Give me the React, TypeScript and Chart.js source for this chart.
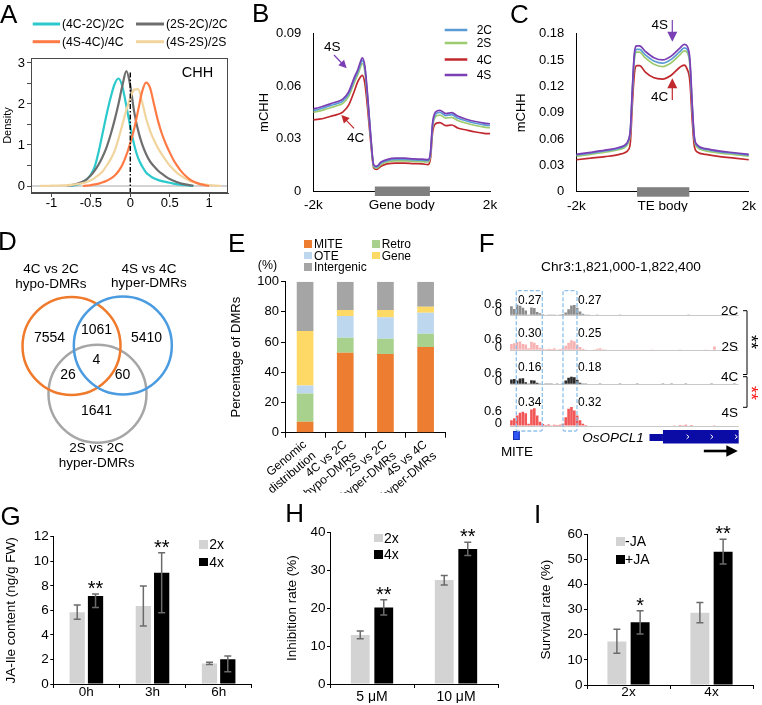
import React, { useEffect, useRef } from 'react';
import { Chart, registerables } from 'chart.js';

Chart.register(...registerables);

const FONT = '"Liberation Sans", Arial, Helvetica, sans-serif';
Chart.defaults.font.family = FONT;
Chart.defaults.color = '#000';

// ===================== DATA =====================
// ---- Panel A: density of relative CHH change ----
const aNames = ['(4C-2C)/2C', '(2S-2C)/2C', '(4S-4C)/4C', '(4S-2S)/2S'];
const densX = [-1.15, -1.1, -1.05, -1, -0.95, -0.9, -0.85, -0.8, -0.75, -0.7, -0.65, -0.6, -0.55, -0.5, -0.45, -0.4, -0.35, -0.3, -0.25, -0.2, -0.15, -0.1, -0.05, 0, 0.05, 0.1, 0.15, 0.2, 0.25, 0.3, 0.35, 0.4, 0.45, 0.5, 0.55, 0.6, 0.65, 0.7, 0.75, 0.8, 0.85, 0.9, 0.95, 1, 1.05, 1.1, 1.15];
const dens4C2C = [null, null, null, null, null, null, null, null, 0, 0.02, 0.05, 0.1, 0.17, 0.28, 0.48, 0.85, 1.3, 1.75, 2.15, 2.48, 2.62, 2.42, 1.95, 1.45, 1.0, 0.68, 0.48, 0.33, 0.25, 0.19, 0.15, 0.12, 0.1, 0.08, 0.06, 0.04, 0.03, 0.02, 0.01, 0, null, null, null, null, null, null, null];
const dens2S2C = [null, null, null, null, null, null, null, 0.01, 0.02, 0.04, 0.07, 0.11, 0.17, 0.26, 0.38, 0.53, 0.72, 0.95, 1.25, 1.6, 2.0, 2.45, 2.8, 2.45, 1.8, 1.35, 1.02, 0.78, 0.6, 0.48, 0.38, 0.3, 0.23, 0.17, 0.13, 0.09, 0.06, 0.04, 0.02, 0.01, null, null, null, null, null, null, null];
const dens4S4C = [null, null, null, null, null, null, null, null, null, null, null, 0, 0.01, 0.02, 0.04, 0.06, 0.09, 0.13, 0.18, 0.25, 0.36, 0.52, 0.75, 1.05, 1.4, 1.85, 2.3, 2.52, 2.4, 2.0, 1.6, 1.28, 1.03, 0.82, 0.63, 0.48, 0.35, 0.25, 0.17, 0.11, 0.07, 0.04, 0.02, 0, null, null, null];
const dens4S2S = [0, 0.004, 0.006, 0.008, 0.01, 0.013, 0.016, 0.02, 0.03, 0.04, 0.055, 0.07, 0.1, 0.14, 0.2, 0.27, 0.36, 0.5, 0.65, 0.85, 1.15, 1.5, 1.85, 2.15, 2.35, 2.36, 2.05, 1.65, 1.35, 1.12, 0.93, 0.77, 0.63, 0.5, 0.4, 0.31, 0.24, 0.18, 0.13, 0.1, 0.07, 0.05, 0.035, 0.025, 0.015, 0.008, 0];
const aXTicks = [-1, -0.5, 0, 0.5, 1];
const aYTicks = [0, 0.5, 1, 1.5, 2, 2.5, 3];

// ---- Panel B: mCHH around genes ----
const sampleNames = ['2C', '2S', '4C', '4S'];
const profB_X = [0, 2, 4, 6, 8, 10, 12, 14, 15, 16, 16.6, 17.5, 18.5, 19.5, 20.5, 21.5, 23, 25, 28, 31, 34, 37, 39, 39.8, 40.5, 41.5, 43, 45, 47, 49, 52, 55, 58, 60];
const profB_2C = [0.0461, 0.0468, 0.0479, 0.0490, 0.0500, 0.0515, 0.0556, 0.0640, 0.0677, 0.0725, 0.0748, 0.0703, 0.0525, 0.0310, 0.0146, 0.0137, 0.0160, 0.0174, 0.0181, 0.0181, 0.0178, 0.0176, 0.0174, 0.0217, 0.0378, 0.0440, 0.0450, 0.0432, 0.0437, 0.0418, 0.0401, 0.0388, 0.0379, 0.0375];
const profB_2S = [0.0451, 0.0457, 0.0467, 0.0478, 0.0488, 0.0502, 0.0542, 0.0625, 0.0661, 0.0708, 0.0730, 0.0686, 0.0512, 0.0302, 0.0140, 0.0131, 0.0152, 0.0166, 0.0172, 0.0172, 0.0170, 0.0168, 0.0166, 0.0207, 0.0364, 0.0425, 0.0434, 0.0417, 0.0422, 0.0404, 0.0388, 0.0375, 0.0366, 0.0362];
const profB_4C = [0.0407, 0.0411, 0.0418, 0.0428, 0.0437, 0.0452, 0.0492, 0.0575, 0.0622, 0.0653, 0.0662, 0.0617, 0.0462, 0.0280, 0.0133, 0.0124, 0.0142, 0.0155, 0.0160, 0.0160, 0.0157, 0.0155, 0.0151, 0.0188, 0.0334, 0.0385, 0.0392, 0.0374, 0.0378, 0.0361, 0.0349, 0.0338, 0.0330, 0.0328];
const profB_4S = [0.0471, 0.0478, 0.0489, 0.0500, 0.0511, 0.0526, 0.0568, 0.0653, 0.0690, 0.0739, 0.0763, 0.0717, 0.0535, 0.0316, 0.0151, 0.0142, 0.0166, 0.0180, 0.0188, 0.0188, 0.0184, 0.0182, 0.0180, 0.0224, 0.0389, 0.0452, 0.0462, 0.0443, 0.0449, 0.0429, 0.0411, 0.0398, 0.0389, 0.0385];
const profB_yTicks = [0, 0.03, 0.06, 0.09];
const profB_xTicks = [0, 30, 60];
const profB_xLabels = ['-2k', 'Gene body', '2k'];

// ---- Panel C: mCHH around TEs ----
const profC_X = [0, 5, 10, 15, 17, 18, 18.8, 19.5, 20.2, 21, 22, 24, 27, 30, 33, 36, 37.5, 38.5, 39.5, 40.3, 41, 42, 45, 50, 55, 60];
const profC_2C = [0.0418, 0.0440, 0.0464, 0.0496, 0.0524, 0.0570, 0.0696, 0.1160, 0.1545, 0.1622, 0.1622, 0.1560, 0.1490, 0.1465, 0.1508, 0.1596, 0.1640, 0.1622, 0.1472, 0.0978, 0.0624, 0.0524, 0.0482, 0.0454, 0.0436, 0.0418];
const profC_2S = [0.0405, 0.0426, 0.0450, 0.0481, 0.0508, 0.0553, 0.0676, 0.1130, 0.1510, 0.1590, 0.1590, 0.1525, 0.1452, 0.1425, 0.1470, 0.1560, 0.1605, 0.1590, 0.1440, 0.0955, 0.0608, 0.0508, 0.0466, 0.0440, 0.0422, 0.0405];
const profC_4C = [0.0364, 0.0382, 0.0400, 0.0426, 0.0448, 0.0473, 0.0564, 0.1000, 0.1346, 0.1437, 0.1437, 0.1364, 0.1298, 0.1284, 0.1328, 0.1419, 0.1444, 0.1400, 0.1255, 0.0818, 0.0527, 0.0455, 0.0426, 0.0400, 0.0382, 0.0364];
const profC_4S = [0.0426, 0.0448, 0.0473, 0.0506, 0.0535, 0.0582, 0.0710, 0.1182, 0.1582, 0.1662, 0.1662, 0.1600, 0.1528, 0.1502, 0.1546, 0.1637, 0.1680, 0.1662, 0.1509, 0.1000, 0.0637, 0.0535, 0.0491, 0.0462, 0.0444, 0.0426];
const profC_yTicks = [0, 0.03, 0.06, 0.09, 0.12, 0.15, 0.18];
const profC_xTicks = [0, 30, 60];
const profC_xLabels = ['-2k', 'TE body', '2k'];

// ---- Panel D: Venn ----
const vennSetTop = ['4C vs 2C', '4S vs 4C', '2S vs 2C'];
const vennSetBottom = ['hypo-DMRs', 'hyper-DMRs', 'hyper-DMRs'];
const vennCounts = [7554, 1061, 5410, 4, 26, 60, 1641];

// ---- Panel E: DMR distribution ----
const eCategories = [['Genomic', 'distribution'], ['4C vs 2C', 'hypo-DMRs'], ['2S vs 2C', 'hyper-DMRs'], ['4S vs 4C', 'hyper-DMRs']];
const eNames = ['MITE', 'Retro', 'OTE', 'Gene', 'Intergenic'];
const eMITE = [7.3, 53.0, 52.1, 56.7];
const eRetro = [18.7, 9.9, 10.2, 8.9];
const eOTE = [5.3, 14.4, 14.1, 13.9];
const eGene = [36.0, 3.9, 4.8, 3.9];
const eIntergenic = [32.7, 18.8, 18.8, 16.6];
const eYTicks = [0, 20, 40, 60, 80, 100];

// ---- Panel F: browser tracks (80 bins) ----
const fRegion = 'Chr3:1,821,000-1,822,400';
const fTrack2C = [
  0.72, 0.50, 0.83, 0.75, 0.60, 0.38, 0.06, 0.62, 0.58, 0.25,
  0.15, 0.08, 0.03, 0.06, 0.02, 0.05, 0.03, 0.06, 0.10, 0.22,
  0.48, 0.78, 0.82, 0.60, 0.30, 0.12, 0.05, 0.02, 0, 0,
  0.02, 0, 0, 0, 0, 0.03, 0, 0, 0.02, 0,
  0, 0, 0, 0, 0, 0.03, 0, 0, 0, 0,
  0, 0, 0, 0, 0.04, 0, 0.03, 0, 0, 0,
  0, 0, 0.02, 0, 0, 0, 0, 0, 0, 0,
  0, 0.03, 0, 0, 0, 0.02, 0, 0, 0, 0];
const fTrack2S = [
  0.50, 0.55, 0.65, 0.70, 0.50, 0.45, 0.15, 0.68, 0.60, 0.42,
  0.20, 0.12, 0.08, 0.12, 0.10, 0.15, 0.06, 0.10, 0.15, 0.35,
  0.60, 0.80, 0.72, 0.45, 0.25, 0.12, 0.06, 0.04, 0, 0.05,
  0.12, 0.15, 0.08, 0.05, 0, 0, 0.03, 0, 0, 0.04,
  0, 0, 0, 0.03, 0, 0, 0, 0, 0, 0.02,
  0, 0, 0, 0, 0.03, 0, 0, 0, 0, 0.02,
  0, 0, 0, 0, 0, 0, 0, 0.04, 0.05, 0.03,
  0, 0.30, 0, 0, 0.06, 0, 0, 0, 0.03, 0];
const fTrack4C = [
  0.38, 0.42, 0.30, 0.45, 0.48, 0.15, 0.05, 0.32, 0.30, 0.12,
  0.06, 0.03, 0.02, 0.05, 0.02, 0.04, 0.02, 0.03, 0.08, 0.30,
  0.52, 0.60, 0.55, 0.35, 0.12, 0.05, 0.02, 0, 0.03, 0,
  0, 0.02, 0, 0.03, 0, 0, 0.04, 0, 0.02, 0,
  0, 0.03, 0, 0, 0.02, 0, 0.04, 0, 0, 0,
  0.03, 0, 0, 0.05, 0, 0, 0.02, 0, 0.03, 0,
  0, 0.02, 0, 0, 0.04, 0, 0, 0.03, 0, 0,
  0.02, 0, 0, 0.04, 0, 0, 0.03, 0, 0.02, 0];
const fTrack4S = [
  0.30, 0.40, 0.55, 0.68, 0.74, 0.66, 0.12, 0.85, 0.92, 0.55,
  0.22, 0.10, 0.05, 0.08, 0.04, 0.06, 0.05, 0.06, 0.12, 0.45,
  0.90, 0.98, 0.80, 0.55, 0.30, 0.12, 0.05, 0.03, 0, 0.02,
  0, 0, 0.03, 0, 0, 0, 0, 0.02, 0, 0,
  0, 0, 0, 0, 0, 0, 0, 0, 0, 0,
  0, 0, 0, 0, 0, 0, 0, 0.04, 0.03, 0.05,
  0.04, 0.06, 0.03, 0.05, 0, 0, 0, 0, 0.03, 0,
  0, 0.04, 0, 0, 0, 0, 0, 0, 0, 0];
const fBox1Means = [0.27, 0.30, 0.16, 0.34];
const fBox2Means = [0.27, 0.25, 0.18, 0.32];
const fYTicks = [0, 0.6];

// ---- Panel G ----
const gCats = ['0h', '3h', '6h'];
const g2x = [5.84, 6.35, 1.68];
const g2xLo = [5.27, 4.72, 1.58];
const g2xHi = [6.43, 7.98, 1.78];
const g4x = [7.17, 9.07, 2.01];
const g4xLo = [6.24, 5.8, 1.0];
const g4xHi = [7.33, 10.69, 2.28];
const gStars = ['**', '**', ''];
const gYTicks = [0, 2, 4, 6, 8, 10, 12];

// ---- Panel H ----
const hCats = ['5 \u03bcM', '10 \u03bcM'];
const h2x = [12.9, 27.4];
const h2xLo = [11.9, 26.1];
const h2xHi = [14.0, 28.6];
const h4x = [20.2, 35.6];
const h4xLo = [18.2, 33.9];
const h4xHi = [22.2, 37.4];
const hStars = ['**', '**'];
const hYTicks = [0, 10, 20, 30, 40];

// ---- Panel I ----
const iCats = ['2x', '4x'];
const iMinus = [17.3, 28.8];
const iMinusLo = [12.6, 24.8];
const iMinusHi = [22.2, 32.8];
const iPlus = [25.0, 53.1];
const iPlusLo = [20.3, 48.2];
const iPlusHi = [29.6, 58.0];
const iStars = ['*', '**'];
const iYTicks = [0, 10, 20, 30, 40, 50, 60];

// ===================== STYLE / LAYOUT =====================
const A_COLORS = ['#2BC9CC', '#6E6E6E', '#FF7A45', '#F2D59E'];
const S_COLORS = ['#5B9BD5', '#9DCB6E', '#C0282D', '#7B3FB5'];
const E_COLORS = ['#ED7D31', '#A9D18E', '#BDD7EE', '#FFD966', '#A5A5A5'];
const V_COLORS = ['#F07A2B', '#4A9BE0', '#A6A6A6'];
const F_COLORS = ['#8C8C8C', '#F7B3B3', '#2B2B2B', '#F25757'];
const BAR_LIGHT = '#D3D3D3';
const BAR_DARK = '#000000';
// venn layout in circle-radius units (origin at the centre of the figure)
const VENN_R = 49;
const VENN_CENTERS = [[0.010, -0.647], [-0.520, 0.327], [0.527, 0.337]]; // grey, orange, blue
const VENN_CIRCLE_COLORS = [V_COLORS[2], V_COLORS[0], V_COLORS[1]];
const VENN_COUNT_POS = [[-0.97, 0.48], [-0.01, 0.65], [1.01, 0.48], [-0.01, 0.04], [-0.59, -0.27], [0.52, -0.27], [-0.01, -1.01]];
const VENN_LABEL_POS = [[-0.939, 1.74], [1.061, 1.75], [-0.006, -1.91]];
// gene model, in bin units of the F tracks
const F_GENE = { mite: [1.05, 3.4], utr: [48.8, 53.5], cds: [53.5, 80], arrow: [67.8, 79.7], chevrons: [62.2, 70.6, 79.1] };
const F_BASE = [323, 358, 392, 426];
const B_BODY = [20.9, 39.6];
const C_BODY = [21.1, 39.3];

// ===================== HELPERS =====================
const fitW = (w) => (s) => { s.width = w; };
const fitH = (h) => (s) => { s.height = h; };
const setTicks = (vals) => (s) => { s.ticks = vals.map((v) => ({ value: v })); };

function baseOpts(padding) {
  return {
    responsive: false,
    maintainAspectRatio: false,
    animation: false,
    devicePixelRatio: 1,
    events: [],
    layout: { padding, autoPadding: false },
    plugins: { legend: { display: false }, tooltip: { enabled: false }, title: { display: false } },
  };
}

const framePlugin = {
  id: 'frame',
  afterDraw(chart) {
    const { ctx, chartArea: a } = chart;
    ctx.save();
    ctx.strokeStyle = '#4A4A4A';
    ctx.lineWidth = 1;
    ctx.strokeRect(Math.round(a.left) + 0.5, Math.round(a.top) + 0.5, Math.round(a.right - a.left) - 1, Math.round(a.bottom - a.top) - 1);
    ctx.restore();
  },
};

const aRefPlugin = {
  id: 'aRef',
  beforeDatasetsDraw(chart) {
    const { ctx, chartArea: a, scales } = chart;
    const y0 = scales.y.getPixelForValue(0);
    ctx.save();
    ctx.strokeStyle = '#C4C4C4';
    ctx.lineWidth = 1.5;
    ctx.beginPath();
    ctx.moveTo(a.left, y0);
    ctx.lineTo(a.right, y0);
    ctx.stroke();
    ctx.restore();
  },
  afterDatasetsDraw(chart) {
    const { ctx, chartArea: a, scales } = chart;
    const x0 = scales.x.getPixelForValue(0);
    const peak = Math.max(...dens2S2C.filter((v) => v !== null));
    const top = scales.y.getPixelForValue(peak);
    ctx.save();
    ctx.strokeStyle = '#000';
    ctx.lineWidth = 1.4;
    ctx.setLineDash([5, 2, 1.5, 2]);
    ctx.beginPath();
    ctx.moveTo(x0, a.bottom);
    ctx.lineTo(x0, top);
    ctx.stroke();
    ctx.restore();
  },
};

function bodyBarPlugin(range) {
  return {
    id: 'bodyBar',
    afterDraw(chart) {
      const { ctx, chartArea: a, scales } = chart;
      const x0 = scales.x.getPixelForValue(range[0]);
      const x1 = scales.x.getPixelForValue(range[1]);
      ctx.save();
      ctx.fillStyle = '#808080';
      ctx.fillRect(x0, a.bottom - 4.5, x1 - x0, 9.5);
      ctx.restore();
    },
  };
}

const vennPlugin = {
  id: 'vennText',
  afterDatasetsDraw(chart) {
    const { ctx, scales } = chart;
    ctx.save();
    ctx.fillStyle = '#000';
    ctx.textAlign = 'center';
    ctx.textBaseline = 'middle';
    ctx.font = `14px ${FONT}`;
    vennCounts.forEach((n, i) => {
      const p = VENN_COUNT_POS[i];
      ctx.fillText(String(n), scales.x.getPixelForValue(p[0]), scales.y.getPixelForValue(p[1]));
    });
    ctx.font = `13.5px ${FONT}`;
    vennSetTop.forEach((t, i) => {
      const p = VENN_LABEL_POS[i];
      const px = scales.x.getPixelForValue(p[0]);
      const py = scales.y.getPixelForValue(p[1]);
      ctx.fillText(t, px, py - 7.3);
      ctx.fillText(vennSetBottom[i], px, py + 7.3);
    });
    ctx.restore();
  },
};

const errPlugin = {
  id: 'errBars',
  afterDatasetsDraw(chart) {
    const { ctx, scales } = chart;
    chart.data.datasets.forEach((ds, di) => {
      const meta = chart.getDatasetMeta(di);
      meta.data.forEach((bar, i) => {
        const x = bar.x;
        const hi = scales.y.getPixelForValue(ds.errHi[i]);
        const lo = scales.y.getPixelForValue(ds.errLo[i]);
        ctx.save();
        ctx.strokeStyle = '#6B6B6B';
        ctx.lineWidth = 1.5;
        ctx.beginPath();
        ctx.moveTo(x, hi); ctx.lineTo(x, lo);
        ctx.moveTo(x - 3.5, hi); ctx.lineTo(x + 3.5, hi);
        ctx.moveTo(x - 3.5, lo); ctx.lineTo(x + 3.5, lo);
        ctx.stroke();
        if (ds.stars && ds.stars[i]) {
          ctx.fillStyle = '#000';
          ctx.font = `20px ${FONT}`;
          ctx.textAlign = 'center';
          ctx.textBaseline = 'alphabetic';
          ctx.fillText(ds.stars[i], x, hi + 1);
        }
        ctx.restore();
      });
    });
  },
};

const geneModelPlugin = {
  id: 'geneModel',
  afterDraw(chart) {
    const { ctx, chartArea: a, scales } = chart;
    const px = (edge) => scales.x.getPixelForValue(edge - 0.5);
    const b = a.bottom;
    ctx.save();
    const m0 = px(F_GENE.mite[0]);
    const m1 = px(F_GENE.mite[1]);
    ctx.fillStyle = '#2F55F5';
    ctx.fillRect(m0, b + 5, m1 - m0, 9);
    ctx.strokeStyle = '#1530B0';
    ctx.lineWidth = 1;
    ctx.strokeRect(m0 + 0.5, b + 5.5, m1 - m0 - 1, 8);
    ctx.fillStyle = '#0B0BA6';
    const u0 = px(F_GENE.utr[0]);
    const u1 = px(F_GENE.utr[1]);
    ctx.fillRect(u0, b + 8, u1 - u0, 7);
    const c0 = px(F_GENE.cds[0]);
    const c1 = px(F_GENE.cds[1]);
    ctx.fillRect(c0, b + 4, c1 - c0, 13.5);
    ctx.strokeStyle = '#FFFFFF';
    ctx.lineWidth = 1;
    F_GENE.chevrons.forEach((cb) => {
      const cx = px(cb);
      ctx.beginPath();
      ctx.moveTo(cx - 1.2, b + 8.7);
      ctx.lineTo(cx + 1.2, b + 10.75);
      ctx.lineTo(cx - 1.2, b + 12.8);
      ctx.stroke();
    });
    const a0 = px(F_GENE.arrow[0]);
    const a1 = px(F_GENE.arrow[1]);
    const ay = b + 25;
    ctx.strokeStyle = '#000';
    ctx.lineWidth = 2.6;
    ctx.beginPath();
    ctx.moveTo(a0, ay);
    ctx.lineTo(a1 - 9, ay);
    ctx.stroke();
    ctx.fillStyle = '#000';
    ctx.beginPath();
    ctx.moveTo(a1, ay);
    ctx.lineTo(a1 - 11.5, ay - 5.8);
    ctx.lineTo(a1 - 11.5, ay + 5.8);
    ctx.closePath();
    ctx.fill();
    ctx.restore();
  },
};

// ===================== CONFIGS =====================
function aConfig() {
  const series = [dens4C2C, dens2S2C, dens4S4C, dens4S2S];
  const drawOrder = [2, 3, 1, 0];
  return {
    type: 'line',
    data: {
      datasets: drawOrder.map((k) => ({
        label: aNames[k],
        data: densX.map((x, i) => ({ x, y: series[k][i] })),
        borderColor: A_COLORS[k],
        borderWidth: 2.2,
        pointRadius: 0,
        cubicInterpolationMode: 'monotone',
        spanGaps: false,
      })),
    },
    options: {
      ...baseOpts({ left: 0, top: 10, right: 12, bottom: 4 }),
      scales: {
        x: {
          type: 'linear', min: -1.26, max: 1.24,
          afterBuildTicks: setTicks(aXTicks), afterFit: fitH(22),
          grid: { drawOnChartArea: false, drawTicks: true, tickLength: 4, color: '#4A4A4A' },
          border: { color: '#4A4A4A' },
          ticks: { padding: -1, font: { size: 13 }, callback: (v) => String(v) },
        },
        y: {
          type: 'linear', min: -0.17, max: 3.12,
          afterBuildTicks: setTicks(aYTicks), afterFit: fitW(31),
          grid: { drawOnChartArea: false, drawTicks: true, tickLength: 4, color: '#4A4A4A' },
          border: { color: '#4A4A4A' },
          ticks: { padding: 2, font: { size: 13 }, callback: (v) => (Number.isInteger(v) ? String(v) : '') },
          title: { display: true, text: 'Density', font: { size: 11 }, padding: { top: 1.4, bottom: 0 } },
        },
      },
    },
    plugins: [aRefPlugin, framePlugin],
  };
}

function profileConfig(xs, series, yMax, yTicks, xTicks, xLabels, yW, titlePad, padding, body) {
  const drawOrder = [3, 0, 1, 2];
  return {
    type: 'line',
    data: {
      datasets: drawOrder.map((k) => ({
        label: sampleNames[k],
        data: xs.map((x, i) => ({ x, y: series[k][i] })),
        borderColor: S_COLORS[k],
        borderWidth: 1.7,
        pointRadius: 0,
        cubicInterpolationMode: 'monotone',
      })),
    },
    options: {
      ...baseOpts(padding),
      scales: {
        x: {
          type: 'linear', min: 0, max: 60,
          afterBuildTicks: setTicks(xTicks), afterFit: fitH(20),
          grid: { display: false, drawTicks: false },
          border: { color: '#000' },
          ticks: { padding: 6, font: { size: 13.5 }, callback: (v) => xLabels[xTicks.indexOf(v)] },
        },
        y: {
          type: 'linear', min: 0, max: yMax,
          afterBuildTicks: setTicks(yTicks), afterFit: fitW(yW),
          grid: { display: false, drawTicks: false },
          border: { color: '#000' },
          ticks: { padding: 12, font: { size: 13 }, callback: (v) => (v === 0 ? '0' : v.toFixed(2)) },
          title: { display: true, text: 'mCHH', font: { size: 13 }, padding: { top: titlePad, bottom: 0 } },
        },
      },
    },
    plugins: [bodyBarPlugin(body)],
  };
}

function bConfig() {
  return profileConfig(profB_X, [profB_2C, profB_2S, profB_4C, profB_4S], 0.09, profB_yTicks, profB_xTicks, profB_xLabels, 59.3, 2.2, { left: 0, top: 12.7, right: 14, bottom: 3 }, B_BODY);
}
function cConfig() {
  return profileConfig(profC_X, [profC_2C, profC_2S, profC_4C, profC_4S], 0.18, profC_yTicks, profC_xTicks, profC_xLabels, 68.3, 5.5, { left: 0, top: 12.7, right: 7.3, bottom: 2.3 }, C_BODY);
}

function dConfig() {
  const W = 240;
  const ox = 97;
  const oy = 362 - 240;
  return {
    type: 'bubble',
    data: {
      datasets: [{
        data: VENN_CENTERS.map((c) => ({ x: c[0], y: c[1], r: VENN_R })),
        borderColor: VENN_CIRCLE_COLORS,
        backgroundColor: 'rgba(0,0,0,0)',
        borderWidth: 2.5,
        clip: false,
      }],
    },
    options: {
      ...baseOpts(0),
      scales: {
        x: { type: 'linear', display: false, min: -ox / VENN_R, max: (W - ox) / VENN_R },
        y: { type: 'linear', display: false, min: -(W - oy) / VENN_R, max: oy / VENN_R },
      },
    },
    plugins: [vennPlugin],
  };
}

function eConfig() {
  const series = [eMITE, eRetro, eOTE, eGene, eIntergenic];
  return {
    type: 'bar',
    data: {
      labels: eCategories,
      datasets: series.map((vals, k) => ({
        label: eNames[k], data: vals, backgroundColor: E_COLORS[k],
        barPercentage: 0.415, categoryPercentage: 1,
      })),
    },
    options: {
      ...baseOpts({ left: 0, top: 11.7, right: 12.3, bottom: 7.3 }),
      scales: {
        x: {
          stacked: true, afterFit: fitH(60),
          grid: { drawOnChartArea: false, drawTicks: true, tickLength: 5, color: '#000' },
          border: { color: '#000' },
          ticks: { minRotation: 40, maxRotation: 40, autoSkip: false, padding: 0, font: { size: 12 } },
        },
        y: {
          stacked: true, min: 0, max: 100,
          afterBuildTicks: setTicks(eYTicks), afterFit: fitW(57),
          grid: { drawOnChartArea: false, drawTicks: true, tickLength: 4, color: '#000' },
          border: { color: '#000' },
          ticks: { padding: 2, font: { size: 13 } },
          title: { display: true, text: 'Percentage of DMRs', font: { size: 13 }, padding: { top: 0.9, bottom: 0 } },
        },
      },
    },
  };
}

function trackConfig(k) {
  const tracks = [fTrack2C, fTrack2S, fTrack4C, fTrack4S];
  const vals = tracks[k];
  const last = k === 3;
  return {
    type: 'bar',
    data: {
      labels: vals.map((_, i) => i),
      datasets: [{ label: sampleNames[k], data: vals, backgroundColor: F_COLORS[k], barPercentage: 0.92, categoryPercentage: 1 }],
    },
    options: {
      ...baseOpts({ left: 0, top: 8, right: 1.3, bottom: last ? 42 : 8 }),
      scales: {
        x: { display: false },
        y: {
          min: 0, max: 1.15,
          afterBuildTicks: setTicks(fYTicks), afterFit: fitW(30),
          border: { display: false },
          grid: {
            drawTicks: false, lineWidth: 1,
            color: (c) => (c.tick && c.tick.value === 0 ? '#C8C8C8' : 'rgba(0,0,0,0)'),
          },
          ticks: { padding: 8, labelOffset: -3, font: { size: 13 }, callback: (v) => String(v) },
        },
      },
    },
    plugins: last ? [geneModelPlugin] : [],
  };
}

function groupBarConfig(cats, dsList, yMax, yTicks, title, yW, padding, xH, xPad, cp, bp) {
  return {
    type: 'bar',
    data: {
      labels: cats,
      datasets: dsList.map((d) => ({
        label: d.label, data: d.values, errLo: d.lo, errHi: d.hi, stars: d.stars,
        backgroundColor: d.color, categoryPercentage: cp, barPercentage: bp,
      })),
    },
    options: {
      ...baseOpts(padding),
      scales: {
        x: {
          afterFit: fitH(xH),
          grid: { drawOnChartArea: false, drawTicks: true, tickLength: 4, color: '#000' },
          border: { color: '#000' },
          ticks: { padding: xPad, font: { size: 13.5 } },
        },
        y: {
          min: 0, max: yMax,
          afterBuildTicks: setTicks(yTicks), afterFit: fitW(yW),
          grid: { drawOnChartArea: false, drawTicks: true, tickLength: 3, color: '#000' },
          border: { color: '#000' },
          ticks: { padding: 1.5, font: { size: 13.5 } },
          title: { display: true, text: title, font: { size: 13.5 }, padding: { top: 0, bottom: 0 } },
        },
      },
    },
    plugins: [errPlugin],
  };
}

function gConfig() {
  const c = groupBarConfig(gCats, [
    { label: '2x', values: g2x, lo: g2xLo, hi: g2xHi, stars: null, color: BAR_LIGHT },
    { label: '4x', values: g4x, lo: g4xLo, hi: g4xHi, stars: gStars, color: BAR_DARK },
  ], 12, gYTicks, 'JA-Ile content (ng/g FW)', 53.3, { left: 0, top: 11.7, right: 10.3, bottom: 2 }, 19, -4, 0.554, 0.833);
  c.options.scales.y.title.padding = { top: 3.6, bottom: 0 };
  return c;
}
function hConfig() {
  const c = groupBarConfig(hCats, [
    { label: '2x', values: h2x, lo: h2xLo, hi: h2xHi, stars: null, color: BAR_LIGHT },
    { label: '4x', values: h4x, lo: h4xLo, hi: h4xHi, stars: hStars, color: BAR_DARK },
  ], 40, hYTicks, 'Inhibition rate (%)', 48, { left: 0, top: 12.3, right: 10, bottom: 2 }, 19, 1, 0.56, 0.8);
  c.options.scales.y.title.padding = { top: 2.2, bottom: 0 };
  c.options.scales.x.ticks.font = { size: 14 };
  return c;
}
function iConfig() {
  const c = groupBarConfig(iCats, [
    { label: '-JA', values: iMinus, lo: iMinusLo, hi: iMinusHi, stars: null, color: BAR_LIGHT },
    { label: '+JA', values: iPlus, lo: iPlusLo, hi: iPlusHi, stars: iStars, color: BAR_DARK },
  ], 60, iYTicks, 'Survival rate (%)', 51, { left: 0, top: 12.3, right: 9, bottom: 2 }, 18, -4.5, 0.56, 0.815);
  c.options.scales.y.title.padding = { top: 2.2, bottom: 0 };
  return c;
}

// ===================== COMPONENTS =====================
function ChartCanvas({ left, top, width, height, config }) {
  const ref = useRef(null);
  useEffect(() => {
    const chart = new Chart(ref.current, config());
    return () => chart.destroy();
  }, []);
  return (
    <canvas
      ref={ref}
      width={width}
      height={height}
      style={{ position: 'absolute', left, top, width, height }}
    />
  );
}

function Txt({ x, y, size, children, anchor = 'middle', color = '#000', italic = false, rotate = 0 }) {
  const tx = anchor === 'start' ? '0' : anchor === 'end' ? '-100%' : '-50%';
  return (
    <div
      style={{
        position: 'absolute', left: x, top: y, fontSize: size, lineHeight: 1, whiteSpace: 'pre',
        color, fontStyle: italic ? 'italic' : 'normal',
        transform: `translate(${tx},-50%)` + (rotate ? ` rotate(${rotate}deg)` : ''),
      }}
    >
      {children}
    </div>
  );
}

function Letter({ x, y, children }) {
  return <div style={{ position: 'absolute', left: x, top: y, fontSize: 26, lineHeight: '26px' }}>{children}</div>;
}

function Sq({ x, y, s, color }) {
  return <div style={{ position: 'absolute', left: x, top: y, width: s, height: s, background: color }} />;
}

function Arrow({ x1, y1, x2, y2, color, w = 1.2, head = 8, hw = 8 }) {
  const dx = x2 - x1;
  const dy = y2 - y1;
  const L = Math.hypot(dx, dy);
  const ux = dx / L;
  const uy = dy / L;
  const bx = x2 - ux * head;
  const by = y2 - uy * head;
  const px = -uy;
  const py = ux;
  return (
    <g>
      <line x1={x1} y1={y1} x2={bx + ux} y2={by + uy} stroke={color} strokeWidth={w} />
      <polygon points={`${x2},${y2} ${bx + (px * hw) / 2},${by + (py * hw) / 2} ${bx - (px * hw) / 2},${by - (py * hw) / 2}`} fill={color} />
    </g>
  );
}

export default function App() {
  const legendY = [30, 43, 59.5, 75];
  return (
    <div style={{ position: 'absolute', left: 0, top: 0, width: 762, height: 705, background: '#fff', overflow: 'hidden', fontFamily: FONT, color: '#000' }}>
      <ChartCanvas left={0} top={48} width={240} height={171} config={aConfig} />
      <ChartCanvas left={254} top={14} width={250} height={200} config={bConfig} />
      <ChartCanvas left={508} top={14} width={254} height={200} config={cConfig} />
      <ChartCanvas left={0} top={240} width={240} height={240} config={dConfig} />
      <ChartCanvas left={228} top={270} width={230} height={230} config={eConfig} />
      {sampleNames.map((s, k) => (
        <ChartCanvas key={s} left={480} top={F_BASE[k] - 38} width={260} height={k === 3 ? 80 : 46} config={() => trackConfig(k)} />
      ))}
      <ChartCanvas left={0} top={525} width={262} height={180} config={gConfig} />
      <ChartCanvas left={282} top={520} width={226} height={185} config={hConfig} />
      <ChartCanvas left={536} top={522} width={226} height={183} config={iConfig} />

      <svg width={762} height={705} style={{ position: 'absolute', left: 0, top: 0, pointerEvents: 'none' }}>
        {/* A legend swatches */}
        <line x1={32.7} y1={24} x2={60} y2={24} stroke={A_COLORS[0]} strokeWidth={3} />
        <line x1={136} y1={24} x2={164} y2={24} stroke={A_COLORS[1]} strokeWidth={3} />
        <line x1={32.7} y1={41.7} x2={60} y2={41.7} stroke={A_COLORS[2]} strokeWidth={3} />
        <line x1={136} y1={41.7} x2={164} y2={41.7} stroke={A_COLORS[3]} strokeWidth={3} />
        {/* B legend swatches */}
        {sampleNames.map((s, k) => (
          <line key={s} x1={444.7} y1={legendY[k]} x2={467.3} y2={legendY[k]} stroke={S_COLORS[k]} strokeWidth={2.5} />
        ))}
        {/* B / C arrows */}
        <Arrow x1={334} y1={55} x2={346.7} y2={68.3} color={S_COLORS[3]} head={8} hw={8} />
        <Arrow x1={354} y1={128.3} x2={341.3} y2={115} color={S_COLORS[2]} head={8} hw={8} />
        <Arrow x1={672.3} y1={20} x2={672.3} y2={41.7} color={S_COLORS[3]} head={10} hw={10} />
        <Arrow x1={672.3} y1={100} x2={672.3} y2={78.3} color={S_COLORS[2]} head={10} hw={10} />
        {/* F dashed boxes */}
        <rect x={516.3} y={290.7} width={26} height={140.3} rx={1.5} fill="none" stroke="#8EC0EA" strokeWidth={1.3} strokeDasharray="4 2" />
        <rect x={563} y={290.7} width={14} height={140.3} rx={1.5} fill="none" stroke="#8EC0EA" strokeWidth={1.3} strokeDasharray="4 2" />
        {/* F brackets */}
        <path d="M743 310.7 H747 V374.5 H743" fill="none" stroke="#000" strokeWidth={1} />
        <path d="M743 376.7 H747 V407.3 H743" fill="none" stroke="#000" strokeWidth={1} />
      </svg>

      {/* panel letters */}
      <Letter x={0} y={1.3}>A</Letter>
      <Letter x={252} y={-0.3}>B</Letter>
      <Letter x={510} y={1.3}>C</Letter>
      <Letter x={-2} y={228}>D</Letter>
      <Letter x={228} y={229.7}>E</Letter>
      <Letter x={478.7} y={229.7}>F</Letter>
      <Letter x={0.4} y={503}>G</Letter>
      <Letter x={285.3} y={500}>H</Letter>
      <Letter x={534} y={501.3}>I</Letter>

      {/* A texts */}
      <Txt x={62} y={24} size={12.2} anchor="start">{aNames[0]}</Txt>
      <Txt x={166} y={24} size={12.2} anchor="start">{aNames[1]}</Txt>
      <Txt x={62} y={41.7} size={12.2} anchor="start">{aNames[2]}</Txt>
      <Txt x={166} y={41.7} size={12.2} anchor="start">{aNames[3]}</Txt>
      <Txt x={197.5} y={71.7} size={14.5}>CHH</Txt>

      {/* B texts */}
      {sampleNames.map((s, k) => (
        <Txt key={s} x={476.7} y={legendY[k]} size={12} anchor="start">{s}</Txt>
      ))}
      <Txt x={332.3} y={46.7} size={13.5}>4S</Txt>
      <Txt x={355.7} y={138.3} size={13.5}>4C</Txt>

      {/* C texts */}
      <Txt x={659.7} y={25} size={13.5}>4S</Txt>
      <Txt x={659.7} y={96.7} size={13.5}>4C</Txt>

      {/* E legend */}
      <Txt x={267.5} y={265} size={12.4}>(%)</Txt>
      <Sq x={304} y={240} s={7.5} color={E_COLORS[0]} />
      <Txt x={314} y={243.8} size={12} anchor="start">{eNames[0]}</Txt>
      <Sq x={372.3} y={240} s={7.5} color={E_COLORS[1]} />
      <Txt x={381.7} y={243.8} size={12} anchor="start">{eNames[1]}</Txt>
      <Sq x={304} y={251.7} s={7.5} color={E_COLORS[2]} />
      <Txt x={314} y={255.5} size={12} anchor="start">{eNames[2]}</Txt>
      <Sq x={372.3} y={251.7} s={7.5} color={E_COLORS[3]} />
      <Txt x={381.7} y={255.5} size={12} anchor="start">{eNames[3]}</Txt>
      <Sq x={304} y={263.3} s={7.5} color={E_COLORS[4]} />
      <Txt x={314} y={267} size={12} anchor="start">{eNames[4]}</Txt>

      {/* F texts */}
      <Txt x={621} y={267.3} size={13.7}>{fRegion}</Txt>
      {sampleNames.map((s, k) => (
        <React.Fragment key={s}>
          <Txt x={529.7} y={[300, 333.3, 366.7, 401.7][k]} size={12}>{fBox1Means[k].toFixed(2)}</Txt>
          <Txt x={589.7} y={[300, 333.3, 366.7, 401.7][k]} size={12}>{fBox2Means[k].toFixed(2)}</Txt>
          <Txt x={729.7} y={[310.7, 346.7, 376.7, 412.7][k]} size={13.5}>{s}</Txt>
        </React.Fragment>
      ))}
      <Txt x={750.5} y={341.7} size={18} rotate={90}>**</Txt>
      <Txt x={750.5} y={392.5} size={18} rotate={90} color="#FF1A1A">**</Txt>
      <Txt x={613} y={438.3} size={13.5} italic>OsOPCL1</Txt>
      <Txt x={517} y={451.7} size={13.5}>MITE</Txt>

      {/* G legend */}
      <Sq x={199.3} y={540} s={8.7} color={BAR_LIGHT} />
      <Txt x={209.3} y={544.3} size={14} anchor="start">2x</Txt>
      <Sq x={199.3} y={557.7} s={8.7} color={BAR_DARK} />
      <Txt x={209.3} y={562} size={14} anchor="start">4x</Txt>
      {/* H legend */}
      <Sq x={374} y={533.5} s={8.7} color={BAR_LIGHT} />
      <Txt x={384} y={537.7} size={14} anchor="start">2x</Txt>
      <Sq x={374} y={550} s={8.7} color={BAR_DARK} />
      <Txt x={384} y={554.3} size={14} anchor="start">4x</Txt>
      {/* I legend */}
      <Sq x={616.3} y={537} s={8.7} color={BAR_LIGHT} />
      <Txt x={625} y={541} size={14} anchor="start">-JA</Txt>
      <Sq x={616.3} y={555} s={8.7} color={BAR_DARK} />
      <Txt x={625} y={559.3} size={14} anchor="start">+JA</Txt>
    </div>
  );
}
